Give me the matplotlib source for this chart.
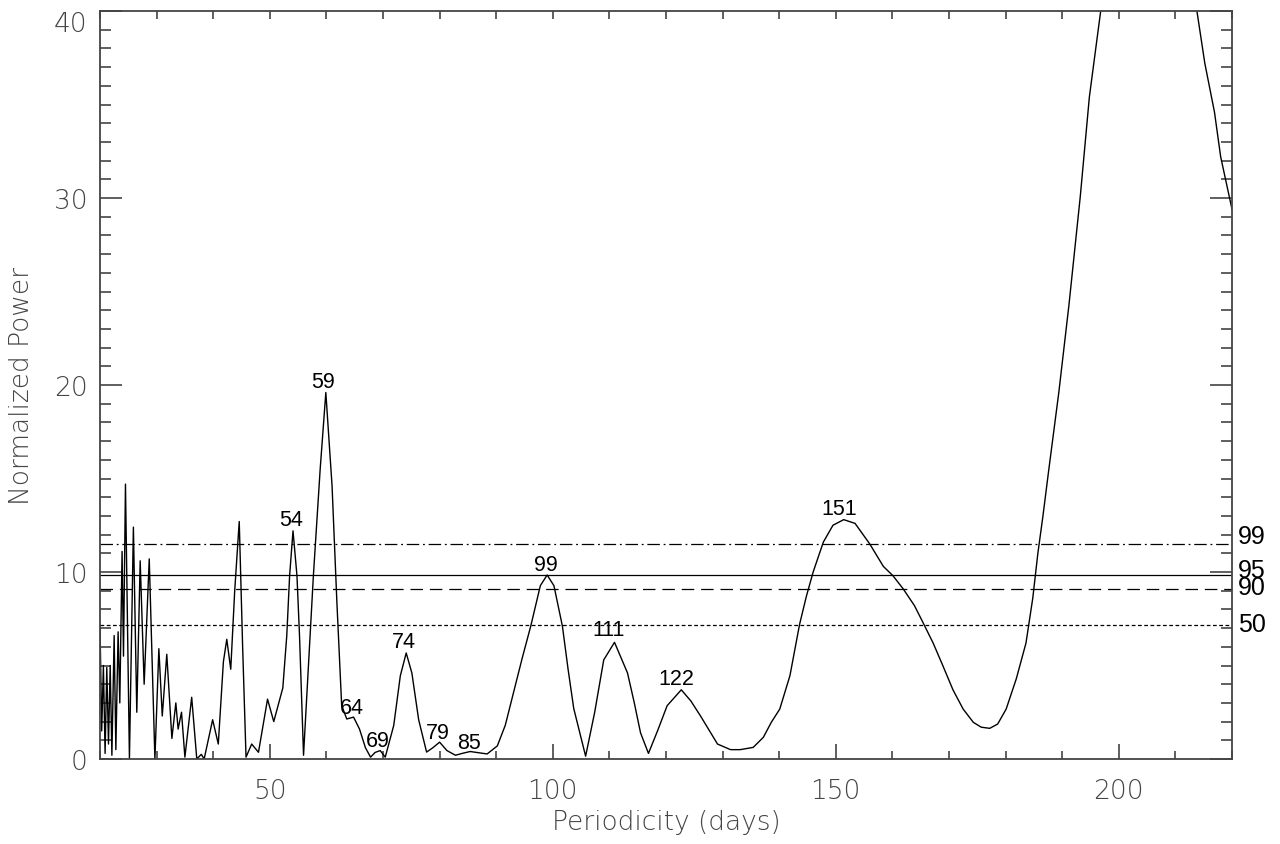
import matplotlib
matplotlib.use("Agg")
import matplotlib.pyplot as plt
from matplotlib.ticker import MultipleLocator

# periodogram (period in days, normalized power)
period = [20.0, 20.3, 20.6, 20.9, 21.2, 21.5, 21.8, 22.1, 22.5, 22.8, 23.2, 23.5,
          23.9, 24.15, 24.5, 25.2, 25.9, 26.5, 27.1, 27.8, 28.7, 29.7, 30.4, 31.0,
          31.8, 32.7, 33.4, 33.8, 34.4, 35.0, 36.2, 37.1, 37.9, 38.4, 39.9, 40.9,
          41.8, 42.4, 43.1, 43.8, 44.6, 45.2, 45.8, 46.8, 48.0, 49.6, 50.7, 51.6,
          52.3, 53.0, 53.5, 54.1, 54.8, 55.25, 55.96, 56.8, 57.7, 58.9, 59.9, 61.0,
          61.85, 62.7, 63.6, 64.8, 65.85, 66.9, 67.8, 68.6, 69.5, 70.4, 71.9, 73.06,
          74.1, 75.1, 76.3, 77.7, 78.8, 80.0, 81.3, 82.8, 84.0, 85.4, 88.4, 90.2,
          91.6, 93.1, 94.6, 96.1, 97.8, 99.0, 100.2, 101.7, 102.7, 103.7, 105.8, 107.4,
          109.0, 110.9, 113.2, 114.4, 115.5, 116.9, 118.5, 120.2, 122.7, 124.4, 126.1, 129.1,
          131.4, 133.1, 135.4, 137.2, 138.6, 140.1, 141.9, 143.6, 144.8, 146.0, 147.8, 149.5,
          151.4, 153.4, 156.0, 158.4, 160.1, 161.9, 163.9, 165.4, 167.2, 168.9, 170.7, 172.5,
          174.3, 175.7, 177.2, 178.6, 180.1, 181.9, 183.6, 184.8, 185.7, 186.6, 187.6, 189.4,
          191.2, 193.2, 194.8, 196.8, 200.0, 205.0, 210.0, 213.8, 215.2, 216.9, 218.0, 220.0]
power = [7.2, 1.5, 5.0, 0.3, 4.9, 0.8, 5.0, 0.2, 6.6, 0.5, 6.8, 3.0,
         11.1, 5.5, 14.7, 0.0, 12.4, 2.5, 10.6, 4.0, 10.7, 0.0, 5.9, 2.3,
         5.6, 1.1, 3.0, 1.6, 2.5, 0.1, 3.3, 0.0, 0.25, 0.0, 2.1, 0.8,
         5.2, 6.4, 4.8, 9.0, 12.7, 6.0, 0.1, 0.8, 0.36, 3.2, 2.0, 3.0,
         3.8, 6.6, 9.8, 12.2, 9.8, 6.6, 0.2, 4.8, 9.8, 15.5, 19.6, 14.6,
         8.4, 2.85, 2.14, 2.24, 1.6, 0.6, 0.1, 0.35, 0.45, 0.1, 1.8, 4.45,
         5.67, 4.6, 2.1, 0.37, 0.6, 0.9, 0.45, 0.2, 0.3, 0.4, 0.27, 0.7,
         1.8, 3.6, 5.4, 7.1, 9.27, 9.84, 9.27, 7.1, 4.8, 2.7, 0.15, 2.5,
         5.3, 6.24, 4.6, 3.0, 1.4, 0.3, 1.5, 2.85, 3.7, 3.1, 2.3, 0.8,
         0.5, 0.5, 0.62, 1.16, 1.96, 2.67, 4.46, 7.2, 8.7, 10.0, 11.6, 12.5,
         12.8, 12.6, 11.5, 10.3, 9.8, 9.1, 8.2, 7.3, 6.2, 5.0, 3.7, 2.67,
         1.96, 1.7, 1.64, 1.87, 2.67, 4.3, 6.2, 8.6, 11.0, 13.0, 15.4, 19.6,
         24.3, 30.1, 35.4, 40.0, 46.0, 49.0, 46.0, 40.0, 37.2, 34.6, 32.2, 29.4]

# false-alarm levels (percent confidence)
sig_names = ["99", "95", "90", "50"]
sig_levels = [11.5, 9.84, 9.09, 7.18]
sig_dashes = [(10, 3, 1.5, 3), None, (10, 5.5), (3, 2)]
sig_nudge = [0.43, 0.26, 0.13, 0.04]

# peak labels
peak_names = ["54", "59", "64", "69", "74", "79", "85", "99", "111", "122", "151"]
peak_x = [53.7, 59.35, 64.5, 69.0, 73.7, 79.6, 85.2, 98.7, 109.9, 121.9, 150.6]
peak_y = [12.8, 20.2, 2.75, 1.0, 6.3, 1.42, 0.88, 10.4, 6.9, 4.28, 13.4]

x_ticks = [50, 100, 150, 200]
y_ticks = [0, 10, 20, 30, 40]

grey = "#444444"

fig = plt.figure(figsize=(12.8, 8.45), dpi=100)
ax = fig.add_axes([100 / 1280, 1 - 760 / 845, 1132 / 1280, 748 / 845])

ax.plot(period, power, color="black", lw=1.0)

for lev, d in zip(sig_levels, sig_dashes):
    if d is None:
        ax.axhline(lev, color="black", lw=0.9)
    else:
        ax.axhline(lev, color="black", lw=0.9, dashes=d)

for name, lev, nud in zip(sig_names, sig_levels, sig_nudge):
    ax.text(1.005, lev + nud, name, transform=ax.get_yaxis_transform(),
            ha="left", va="center", fontsize=18, family="Liberation Sans",
            color="black", clip_on=False)

for name, x, y in zip(peak_names, peak_x, peak_y):
    ax.text(x, y, name, ha="center", va="center", fontsize=15.5,
            family="Liberation Sans", color="black")

ax.set_xlim(20, 220)
ax.set_ylim(0, 40)
ax.set_xticks(x_ticks)
ax.set_yticks(y_ticks)
ax.xaxis.set_minor_locator(MultipleLocator(10))
ax.yaxis.set_minor_locator(MultipleLocator(1))

for sp in ax.spines.values():
    sp.set_color(grey)
    sp.set_linewidth(1.3)

ax.tick_params(axis="x", which="major", direction="in", length=11, width=1.2,
               color=grey, top=False, pad=14)
ax.tick_params(axis="x", which="minor", direction="in", length=6, width=1.2,
               color=grey, top=False)
ax.tick_params(axis="y", which="major", direction="in", length=16, width=1.2,
               color=grey, right=True, pad=9)
ax.tick_params(axis="y", which="minor", direction="in", length=8, width=1.2,
               color=grey, right=True)

top = ax.secondary_xaxis("top")
top.xaxis.set_major_locator(MultipleLocator(10))
top.tick_params(direction="in", length=6, width=1.2, color=grey, labeltop=False)
top.spines["top"].set_visible(False)

for lab in ax.get_xticklabels() + ax.get_yticklabels():
    lab.set_fontsize(19)
    lab.set_family("DejaVu Sans")
    lab.set_fontweight("light")
    lab.set_color(grey)

# the top "40" sits below the frame corner, as in the reference
ax.yaxis.get_major_ticks()[len(y_ticks) - 1].label1.set_verticalalignment("top")

fig.text(666 / 1280, 1 - 823 / 845, "Periodicity (days)", ha="center", va="center",
         fontsize=19, family="DejaVu Sans", fontweight="light", color=grey)
fig.text(22 / 1280, 1 - 386 / 845, "Normalized Power", ha="center", va="center",
         rotation=90, fontsize=19, family="DejaVu Sans", fontweight="light", color=grey)

fig.savefig("out.png", dpi=100)
